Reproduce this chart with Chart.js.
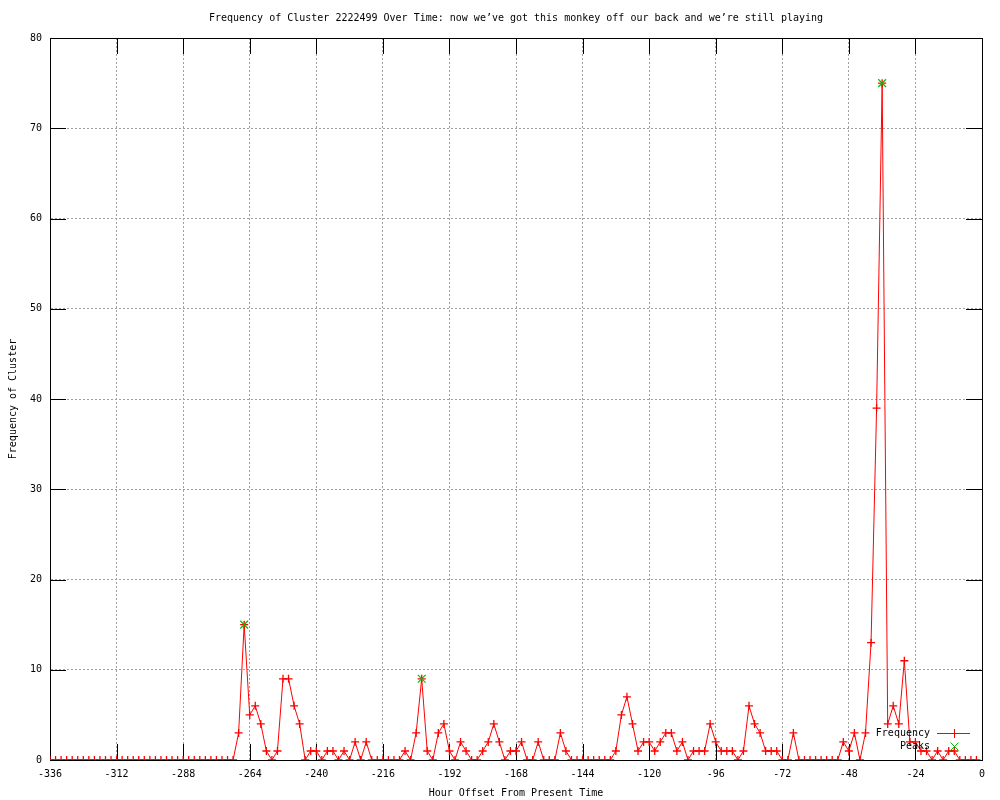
<!DOCTYPE html>
<html>
<head>
<meta charset="utf-8">
<title>Frequency of Cluster 2222499</title>
<script src="https://cdn.jsdelivr.net/npm/chart.js@4/dist/chart.umd.min.js"></script>
<style>
  html, body { margin: 0; padding: 0; background: #fff; }
  #wrap { width: 1000px; height: 800px; }
</style>
</head>
<body>
<div id="wrap"><canvas id="myChart" width="1000" height="800"></canvas></div>
<script>
// --- DATI ---
const titleText = "Frequency of Cluster 2222499 Over Time: now we\u2019ve got this monkey off our back and we\u2019re still playing";
const xTitle = "Hour Offset From Present Time";
const yTitle = "Frequency of Cluster";

// ore: da -336 a -2, ogni 2 ore
const startHour = -336;
const hourStep = 2;

// frequenza per ogni intervallo di 2 ore
const frequency = [
    0, 0, 0, 0, 0, 0, 0, 0, 0, 0, 0, 0, 0, 0, 0, 0, 0,
    0, 0, 0, 0, 0, 0, 0, 0, 0, 0, 0, 0, 0, 0, 0, 0, 0,
    3, 15, 5, 6, 4, 1, 0, 1, 9, 9, 6, 4, 0, 1, 1, 0, 1, 1, 0, 1, 0, 2, 0, 2,
    0, 0, 0, 0, 0, 0, 1, 0, 3, 9, 1, 0, 3, 4, 1, 0, 2, 1, 0, 0, 1, 2, 4, 2,
    0, 1, 1, 2, 0, 0, 2, 0, 0, 0, 3, 1, 0, 0, 0, 0, 0, 0, 0, 0,
    1, 5, 7, 4, 1, 2, 2, 1, 2, 3, 3, 1, 2, 0, 1, 1, 1, 4, 2, 1, 1, 1, 0, 1,
    6, 4, 3, 1, 1, 1, 0, 0, 3, 0, 0, 0, 0, 0, 0, 0, 0, 2, 1, 3, 0, 3,
    13, 39, 75, 4, 6, 4, 11, 2, 2, 1, 1, 0, 1, 0, 1, 1, 0, 0, 0, 0
];

// picchi segnati in verde
const peakHours = [-266, -202, -36];
const peakValues = [15, 9, 75];

const xTicksMin = -336;
const xTicksMax = 0;
const xTickStep = 24;
const yTicksMin = 0;
const yTicksMax = 80;
const yTickStep = 10;

const FONT = "'DejaVu Sans Mono', 'Liberation Mono', monospace";
const RED = '#ff0000';
const GREEN = '#00c000';

const freqPoints = frequency.map((v, i) => ({ x: startHour + i * hourStep, y: v }));
const peakPoints = peakHours.map((h, i) => ({ x: h, y: peakValues[i] }));

// --- PLUGIN: titolo, bordo, tacche interne, legenda ---
const gnuplotFrame = {
    id: 'gnuplotFrame',
    beforeDatasetsDraw(chart) {
        const { ctx, chartArea: a, scales } = chart;
        const len = 16;
        ctx.save();
        ctx.strokeStyle = '#000';
        ctx.lineWidth = 1;
        ctx.beginPath();
        scales.x.ticks.forEach(t => {
            const px = Math.round(scales.x.getPixelForValue(t.value)) + 0.5;
            ctx.moveTo(px, a.bottom);
            ctx.lineTo(px, a.bottom - len);
            ctx.moveTo(px, a.top);
            ctx.lineTo(px, a.top + len);
        });
        scales.y.ticks.forEach(t => {
            const py = Math.round(scales.y.getPixelForValue(t.value)) + 0.5;
            ctx.moveTo(a.left, py);
            ctx.lineTo(a.left + len, py);
            ctx.moveTo(a.right, py);
            ctx.lineTo(a.right - len, py);
        });
        ctx.stroke();
        ctx.strokeRect(Math.round(a.left) + 0.5, Math.round(a.top) + 0.5,
            Math.round(a.right - a.left), Math.round(a.bottom - a.top));
        ctx.restore();
    },
    afterDraw(chart) {
        const { ctx, chartArea: a } = chart;
        ctx.save();
        ctx.font = `10px ${FONT}`;
        ctx.fillStyle = '#000';
        ctx.textBaseline = 'middle';

        // titolo centrato sull'area del grafico
        ctx.textAlign = 'center';
        ctx.fillText(titleText, (a.left + a.right) / 2, 18);

        // legenda dentro il grafico, in basso a destra
        const ty1 = a.bottom - 27;
        const ty2 = a.bottom - 14;
        const tx = a.right - 52;
        ctx.textAlign = 'right';
        ctx.fillText('Frequency', tx, ty1);
        ctx.fillText('Peaks', tx, ty2);

        const mx = a.right - 28;
        ctx.strokeStyle = RED;
        ctx.lineWidth = 1;
        ctx.beginPath();
        ctx.moveTo(a.right - 45, ty1 + 0.5);
        ctx.lineTo(a.right - 12, ty1 + 0.5);
        ctx.moveTo(mx + 0.5, ty1 - 4);
        ctx.lineTo(mx + 0.5, ty1 + 5);
        ctx.stroke();

        ctx.strokeStyle = GREEN;
        ctx.beginPath();
        ctx.moveTo(mx - 3.5, ty2 - 3.5);
        ctx.lineTo(mx + 4.5, ty2 + 4.5);
        ctx.moveTo(mx + 4.5, ty2 - 3.5);
        ctx.lineTo(mx - 3.5, ty2 + 4.5);
        ctx.stroke();
        ctx.restore();
    }
};

const ctx = document.getElementById('myChart').getContext('2d');

new Chart(ctx, {
    type: 'line',
    data: {
        datasets: [
            {
                label: 'Frequency',
                data: freqPoints,
                borderColor: RED,
                backgroundColor: RED,
                borderWidth: 1,
                pointStyle: 'cross',
                pointRadius: 4,
                pointBorderWidth: 1.3,
                pointBorderColor: RED,
                tension: 0,
                fill: false,
                order: 1
            },
            {
                label: 'Peaks',
                data: peakPoints,
                showLine: false,
                borderColor: GREEN,
                backgroundColor: GREEN,
                pointStyle: 'crossRot',
                pointRadius: 5.5,
                pointBorderWidth: 1.2,
                pointBorderColor: GREEN,
                order: 0
            }
        ]
    },
    options: {
        responsive: false,
        animation: false,
        layout: { padding: { top: 38, right: 18, left: 0, bottom: 0 } },
        plugins: {
            legend: { display: false },
            title: { display: false },
            tooltip: { enabled: false }
        },
        scales: {
            x: {
                type: 'linear',
                min: xTicksMin,
                max: xTicksMax,
                afterFit(scale) { scale.height = 40; },
                ticks: {
                    stepSize: xTickStep,
                    color: '#000',
                    padding: 8,
                    maxRotation: 0,
                    autoSkip: false,
                    font: { family: FONT, size: 10 }
                },
                grid: {
                    color: '#a0a0a0',
                    lineWidth: 1,
                    drawTicks: false
                },
                border: { display: true, color: '#000', dash: [2, 2] },
                title: {
                    display: true,
                    text: xTitle,
                    color: '#000',
                    font: { family: FONT, size: 10 },
                    padding: { top: 0, bottom: 1 }
                }
            },
            y: {
                type: 'linear',
                min: yTicksMin,
                max: yTicksMax,
                afterFit(scale) { scale.width = 50; },
                ticks: {
                    stepSize: yTickStep,
                    color: '#000',
                    padding: 8,
                    font: { family: FONT, size: 10 }
                },
                grid: {
                    color: '#a0a0a0',
                    lineWidth: 1,
                    drawTicks: false
                },
                border: { display: true, color: '#000', dash: [2, 2] },
                title: {
                    display: true,
                    text: yTitle,
                    color: '#000',
                    font: { family: FONT, size: 10 },
                    padding: { top: 7, bottom: 0 }
                }
            }
        }
    },
    plugins: [gnuplotFrame]
});
</script>
</body>
</html>
